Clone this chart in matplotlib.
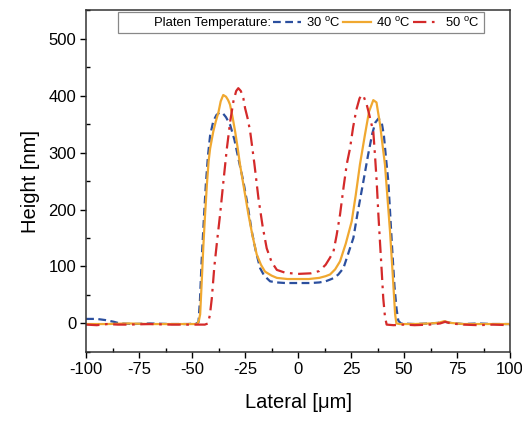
import matplotlib
matplotlib.use('Agg')
import matplotlib.pyplot as plt
from matplotlib.lines import Line2D

plt.rcParams['font.family'] = ['Liberation Sans', 'DejaVu Sans']
plt.rcParams['mathtext.fontset'] = 'custom'
plt.rcParams['mathtext.rm'] = 'Liberation Sans'
plt.rcParams['axes.unicode_minus'] = False

# profile data (lateral in um, height in nm)
x_30 = [-100, -95, -91, -87, -84, -78, -70, -60, -52, -48, -47, -46.3, -45.5, -44.5, -43.5,
        -42.5, -41.5, -40, -38.5, -37, -35.5, -34, -32, -30, -28.2, -25.8, -24, -21.8, -20,
        -17.9, -16, -13.2, -10, -6, 0, 6, 10, 13, 15.1, 17, 19, 21.4, 23, 24.5, 26.1, 28,
        30.8, 33, 35, 36.5, 38, 39.5, 40.5, 41.5, 42.6, 43.5, 44.5, 45.5, 46.5, 47.3, 48.5,
        55, 62, 66, 69, 72, 78, 85, 92, 100]
h_30 = [8, 8, 6, 3, 0, -1, 0, -1, -1, 0, 2, 40, 110, 180, 245,
        295, 330, 355, 366, 370, 369, 362, 348, 322, 290, 249, 212, 161, 128,
        97, 84, 74, 72, 71, 71, 71, 72, 74, 77, 80, 86, 97, 115, 132, 150, 192,
        249, 295, 333, 353, 360, 352, 330, 290, 249, 190, 125, 65, 25, 5, 0,
        -1, 0, 1, 3, 1, -1, 0, -1, -1]

x_40 = [-100, -90, -80, -70, -60, -50, -47.6, -46.8, -46.2, -45.5, -44.7, -43.9, -43, -42.2,
        -41.5, -40, -38.8, -37.6, -36.5, -35.3, -34, -33, -32.1, -30.9, -29.7, -28.5, -27.4,
        -25.4, -23.4, -21.5, -19.5, -17.5, -15.6, -12.5, -10, -5, 0, 5, 10, 13, 15.1, 17.5,
        19.8, 22.5, 25.3, 27.2, 29.2, 31.5, 32.4, 33.5, 35.5, 37, 38.7, 39.8, 41, 42.2, 43.4,
        44.6, 45.8, 46.4, 48, 55, 62, 66, 69, 72, 78, 85, 92, 100]
h_40 = [-1, -1, 0, -1, -1, -1, -1, 5, 16, 70, 135, 190, 245, 285,
        307, 337, 355, 370, 390, 401, 398, 392, 384, 362, 337, 308, 279,
        235, 191, 154, 121, 103, 91, 84, 80, 78, 78, 78, 80, 83, 86, 95,
        109, 140, 179, 225, 279, 330, 349, 372, 392, 388, 349, 315, 279, 220, 161,
        90, 16, 0, -1, -1, 0, 1, 4, 1, -1, -1, -1, -1]

x_50 = [-100, -95, -90, -85, -80, -70, -60, -50, -44, -42.5, -41.6, -40.7, -39.5, -38.2,
        -36.8, -35.2, -33.6, -32, -30.5, -29.2, -28.2, -27, -25.8, -25, -23.8, -22.6, -20.6,
        -18.7, -16.7, -14.8, -12.5, -10, -6, 0, 6, 10, 13, 15, 16.7, 18.2, 19.8, 21.5, 23,
        24.5, 26, 27.5, 29, 30, 31, 32.4, 33.5, 34.5, 35.5, 36.3, 37.1, 37.9, 38.7, 39.5,
        40.2, 41, 41.8, 45, 50, 55, 62, 67, 69.5, 72, 78, 85, 92, 100]
h_50 = [-2, -3, -1, -2, -2, -1, -2, -2, -2, 0, 15, 44, 100, 145,
        191, 250, 307, 355, 390, 408, 413, 408, 395, 378, 360, 337, 280,
        220, 170, 132, 108, 94, 89, 87, 88, 92, 103, 115, 126, 155, 191, 240, 280,
        307, 345, 375, 395, 401, 398, 384, 368, 352, 337, 295, 249, 191, 140, 90,
        44, 12, -2, -3, -2, -3, -2, 0, 3, 0, -2, -3, -2, -3]

labels = ['30 $^{\\rm o}$C', '40 $^{\\rm o}$C', '50 $^{\\rm o}$C ']
colors = ['#2b4f9e', '#f0a830', '#d42a2a']

fig = plt.figure(figsize=(5.22, 4.21), dpi=100)
ax = fig.add_axes([0.165, 0.164, 0.812, 0.812])

l1, = ax.plot(x_30, h_30, color=colors[0], lw=1.6, ls=(0, (3.5, 2)), label=labels[0])
l2, = ax.plot(x_40, h_40, color=colors[1], lw=1.6, ls='-', label=labels[1])
l3, = ax.plot(x_50, h_50, color=colors[2], lw=1.6, ls=(0, (6, 2.5, 1.2, 2.5)), label=labels[2])

ax.set_xlim(-100, 100)
ax.set_ylim(-50, 550)
ax.set_xticks([-100, -75, -50, -25, 0, 25, 50, 75, 100])
ax.set_xticks([-87.5, -62.5, -37.5, -12.5, 12.5, 37.5, 62.5, 87.5], minor=True)
ax.set_yticks([0, 100, 200, 300, 400, 500])
ax.set_yticks([-50, 50, 150, 250, 350, 450, 550], minor=True)
ax.tick_params(axis='both', which='major', direction='out', length=4, width=1, labelsize=12, pad=3)
ax.tick_params(axis='both', which='minor', direction='in', length=3, width=1)
for s in ax.spines.values():
    s.set_linewidth(1.1)
    s.set_color('#333333')

ax.set_xlabel('Lateral [\u03bcm]', fontsize=14.5, labelpad=12)
ax.set_ylabel('Height [nm]', fontsize=14.5, labelpad=6)

# legend in one row with the title as the first entry
blank = Line2D([], [], alpha=0)
leg = ax.legend([blank, l1, l2, l3], ['Platen Temperature:'] + labels,
                ncol=4, loc='upper left', bbox_to_anchor=(0.075, 0.994),
                borderaxespad=0, fontsize=9.4, handlelength=2.1, handletextpad=0.4,
                columnspacing=0.2, borderpad=0.25, fancybox=False, framealpha=1)
leg.get_frame().set_edgecolor('#888888')
leg.get_frame().set_linewidth(0.9)

fig.savefig('out.png', dpi=100)
